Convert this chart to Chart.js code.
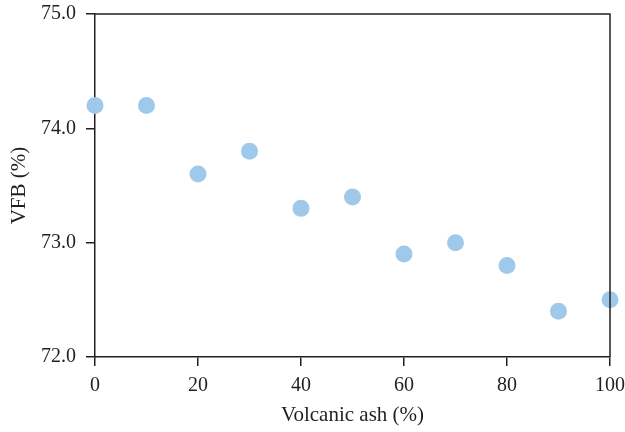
<!DOCTYPE html>
<html>
<head>
<meta charset="utf-8">
<script src="https://cdn.jsdelivr.net/npm/chart.js@4"></script>
<style>
  html, body { margin: 0; padding: 0; background: #fff; }
  #wrap { width: 625px; height: 432px; }
</style>
</head>
<body>
<div id="wrap"><canvas id="myChart" width="625" height="432"></canvas></div>
<script>
const ashPct = [0, 10, 20, 30, 40, 50, 60, 70, 80, 90, 100]
const vfb = [74.2, 74.2, 73.6, 73.8, 73.3, 73.4, 72.9, 73.0, 72.8, 72.4, 72.5]
const xTicks = [0, 20, 40, 60, 80, 100]
const yTicks = [72.0, 73.0, 74.0, 75.0]

const ink = '#231f20'
const serif = "'Liberation Serif', 'DejaVu Serif', serif"

// top + right lines of the frame
const boxPlugin = {
  id: 'box',
  afterDatasetsDraw(chart) {
    const a = chart.chartArea, c = chart.ctx
    c.save()
    c.strokeStyle = ink
    c.lineWidth = 1.5
    c.beginPath()
    c.moveTo(a.left, a.top)
    c.lineTo(a.right, a.top)
    c.lineTo(a.right, a.bottom)
    c.stroke()
    c.restore()
  }
}

var ctx = document.getElementById('myChart').getContext('2d')
var chart = new Chart(ctx, {
  type: 'scatter',
  data: {
    datasets: [{
      data: ashPct.map((x, i) => ({ x: x, y: vfb[i] })),
      backgroundColor: '#9fc9eb',
      borderWidth: 0,
      pointRadius: 8.5,
      pointHoverRadius: 8.5,
      clip: false
    }]
  },
  options: {
    responsive: false,
    animation: false,
    layout: { padding: { top: 14, right: 15, left: 0, bottom: 0 } },
    plugins: { legend: { display: false }, tooltip: { enabled: false } },
    scales: {
      x: {
        type: 'linear', min: 0, max: 100,
        afterBuildTicks: s => { s.ticks = xTicks.map(v => ({ value: v })) },
        afterFit: s => { s.height = 75; s.paddingLeft = 0; s.paddingRight = 0 },
        grid: { drawOnChartArea: false, tickLength: 9, color: ink, lineWidth: 1.5 },
        border: { color: ink, width: 1.5 },
        ticks: { color: ink, font: { family: serif, size: 20 }, padding: 8, maxRotation: 0 },
        title: { display: true, text: 'Volcanic ash (%)', color: ink, font: { family: serif, size: 21 }, padding: { top: 0, bottom: 4 } }
      },
      y: {
        type: 'linear', min: 72, max: 75,
        afterBuildTicks: s => { s.ticks = yTicks.map(v => ({ value: v })) },
        afterFit: s => { s.width = 95; s.paddingTop = 0; s.paddingBottom = 0 },
        grid: { drawOnChartArea: false, tickLength: 9, color: ink, lineWidth: 1.5 },
        border: { color: ink, width: 1.5 },
        ticks: { color: ink, font: { family: serif, size: 20 }, padding: 10, callback: v => v.toFixed(1) },
        title: { display: true, text: 'VFB (%)', color: ink, font: { family: serif, size: 21 }, padding: { top: 7, bottom: 0 } }
      }
    }
  },
  plugins: [boxPlugin]
})
</script>
</body>
</html>
